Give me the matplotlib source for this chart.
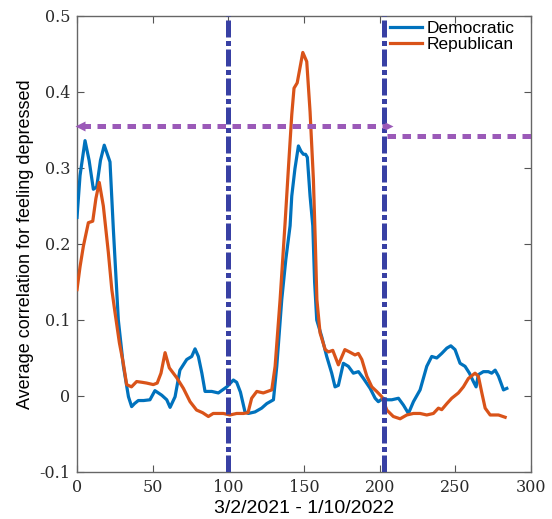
import numpy as np
import matplotlib
matplotlib.use('Agg')
import matplotlib.pyplot as plt

# values
dem_x = [0, 2, 5.3, 8, 10.8, 13, 15.5, 18, 21.8, 24, 27.3, 30.6, 34, 36.1,
         38, 40.5, 44, 48.2, 51.5, 56, 59.3, 61.5, 64.8, 68, 72.5, 75.8, 78,
         80.2, 82.5, 84.6, 89, 93.4, 99, 103.3, 105.5, 108, 111, 113.2, 117.6,
         122, 125.4, 129.8, 132, 135.3, 138, 140.8, 141.9, 144, 146.3, 148,
         149.6, 151, 152.2, 154, 155.8, 157, 158.4, 161.7, 165, 168.3, 170.5,
         172.7, 176, 179.3, 182.6, 186, 189.3, 193.7, 197, 199.1, 202.4, 205,
         208, 212.4, 215.7, 219, 222.3, 226.7, 231.1, 234.4, 237.7, 241, 244.4,
         247, 249.8, 253.1, 256.4, 259.3, 261.9, 263.7, 265.2, 268.5, 271.8,
         274, 276.3, 278.5, 281.8, 284]
dem_y = [0.235, 0.29, 0.336, 0.31, 0.272, 0.275, 0.31, 0.330, 0.308, 0.22,
         0.10, 0.04, -0.001, -0.014, -0.01, -0.006, -0.006, -0.005, 0.007,
         0.001, -0.005, -0.015, -0.001, 0.034, 0.048, 0.052, 0.062, 0.052,
         0.03, 0.006, 0.006, 0.004, 0.012, 0.021, 0.018, 0.005, -0.021, -0.023,
         -0.021, -0.016, -0.01, -0.005, 0.039, 0.127, 0.18, 0.224, 0.263,
         0.299, 0.329, 0.322, 0.318, 0.318, 0.314, 0.263, 0.224, 0.15, 0.10,
         0.078, 0.052, 0.030, 0.012, 0.014, 0.043, 0.039, 0.030, 0.032, 0.023,
         0.010, -0.003, -0.0075, -0.003, -0.005, -0.005, -0.003, -0.012,
         -0.023, -0.0075, 0.008, 0.039, 0.052, 0.050, 0.056, 0.063, 0.066,
         0.061, 0.043, 0.039, 0.030, 0.019, 0.012, 0.028, 0.032, 0.032, 0.030,
         0.034, 0.026, 0.008, 0.010]

rep_x = [0, 2, 4.2, 7.5, 10.4, 12.5, 14.7, 17.4, 20.7, 23, 25.1, 28, 30.6,
         32.8, 36, 39.4, 43, 46, 50.4, 53, 55.5, 58.2, 61, 65.9, 70.3, 74.7,
         79, 83, 86.8, 90, 96.7, 101, 105.5, 110, 113, 115.4, 118.8, 123.1,
         128.7, 130.9, 134.2, 137.5, 139.7, 141.9, 143.4, 145.5, 149.2, 151.8,
         154, 156.2, 157.5, 158.5, 160.6, 164, 166.2, 169, 172.7, 177, 180,
         183.7, 185.9, 188.2, 191.5, 194.8, 198, 201.4, 204.7, 209, 213.5,
         217.9, 222.3, 226.7, 231.1, 235.5, 238.8, 241, 244.4, 247.6, 252,
         255.3, 258.6, 263, 265.2, 267.5, 269.7, 273, 278.5, 282.9]
rep_y = [0.14, 0.17, 0.197, 0.228, 0.230, 0.26, 0.281, 0.25, 0.189, 0.14,
         0.11, 0.07, 0.043, 0.015, 0.012, 0.019, 0.018, 0.017, 0.015, 0.017,
         0.03, 0.057, 0.037, 0.024, 0.010, -0.0075, -0.0185, -0.022, -0.027,
         -0.023, -0.023, -0.025, -0.023, -0.023, -0.022, -0.003, 0.006, 0.004,
         0.008, 0.039, 0.127, 0.228, 0.300, 0.370, 0.405, 0.412, 0.452, 0.44,
         0.374, 0.285, 0.2, 0.127, 0.083, 0.061, 0.058, 0.06, 0.041, 0.061,
         0.058, 0.054, 0.056, 0.048, 0.026, 0.012, 0.006, -0.001, -0.0185,
         -0.027, -0.030, -0.025, -0.023, -0.023, -0.025, -0.023, -0.016,
         -0.018, -0.010, -0.003, 0.004, 0.012, 0.023, 0.030, 0.026, 0.004,
         -0.016, -0.025, -0.025, -0.028]

labels = ['Democratic', 'Republican']
vlines = [100, 203]
left_level = 0.355
right_level = 0.342
split_x = 205

xticks = [0, 50, 100, 150, 200, 250, 300]
yticks = [-0.1, 0, 0.1, 0.2, 0.3, 0.4, 0.5]
ytick_labels = ['-0.1', '0', '0.1', '0.2', '0.3', '0.4', '0.5']

blue = '#0072BD'
red = '#D95319'
navy = '#3840a4'
purple = '#9b5ab8'

fig = plt.figure(figsize=(5.52, 5.19), dpi=100)
ax = fig.add_axes([0.1395, 0.0906, 0.8225, 0.8786])

ax.plot(dem_x, dem_y, color=blue, lw=2.3, label=labels[0], zorder=3)
ax.plot(rep_x, rep_y, color=red, lw=2.3, label=labels[1], zorder=3)

for xv in vlines:
    ax.axvline(xv, color=navy, lw=3.6, linestyle=(0, (3.4, 0.7, 1, 0.7)), zorder=4)

# dashed threshold arrows
ax.plot([3, split_x], [left_level, left_level], color=purple, lw=3.6,
        linestyle=(0, (1.7, 1.3)), zorder=5)
ax.plot([split_x, 300], [right_level, right_level], color=purple, lw=3.6,
        linestyle=(0, (1.7, 1.3)), zorder=5, clip_on=False)
ax.plot([2], [left_level], marker='<', ms=7, color=purple, mec='none',
        zorder=6, clip_on=False)
ax.plot([split_x + 1], [left_level], marker='>', ms=6, color=purple, mec='none',
        zorder=6)

ax.set_xlim(0, 300)
ax.set_ylim(-0.1, 0.5)
ax.set_xticks(xticks)
ax.set_yticks(yticks)
ax.set_yticklabels(ytick_labels)
ax.tick_params(direction='in', length=5, width=0.8, top=True, right=True,
               colors='#555555', labelcolor='#2a2a2a', labelsize=11.5, pad=5)
for lab in ax.get_xticklabels() + ax.get_yticklabels():
    lab.set_family('DejaVu Serif')
for sp in ax.spines.values():
    sp.set_color('#666666')
    sp.set_linewidth(1.0)

ax.set_ylabel('Average correlation for feeling depressed', family='Liberation Sans',
              fontsize=13, labelpad=4)
ax.set_xlabel('3/2/2021 - 1/10/2022', family='Liberation Sans', fontsize=14,
              labelpad=3)

ax.legend(loc='upper left', bbox_to_anchor=(0.69, 0.99), frameon=False,
          prop={'family': 'Liberation Sans', 'size': 12.5}, handlelength=1.8,
          handletextpad=0.3, labelspacing=0.05, borderpad=0, borderaxespad=0)

fig.savefig('out.png', dpi=100)
